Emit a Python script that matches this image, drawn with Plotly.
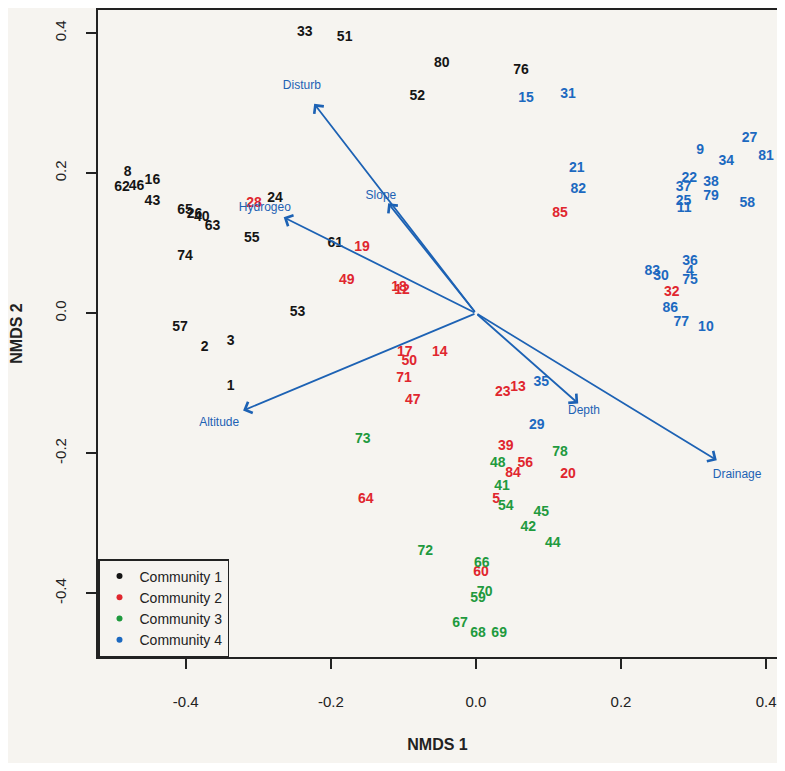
import plotly.graph_objects as go

# ---- site scores (NMDS1, NMDS2) by community ----
c1_labels = ["33", "51", "80", "76", "52", "8", "62", "46", "16", "43", "65", "26", "40", "63",
             "24", "55", "74", "61", "53", "57", "2", "3", "1"]
c1_x = [-0.236, -0.181, -0.047, 0.062, -0.081, -0.480, -0.488, -0.468, -0.446, -0.446, -0.401, -0.388,
        -0.378, -0.363, -0.277, -0.309, -0.401, -0.194, -0.246, -0.408, -0.374, -0.338, -0.338]
c1_y = [0.401, 0.394, 0.357, 0.347, 0.309, 0.201, 0.179, 0.181, 0.190, 0.160, 0.146, 0.141,
        0.136, 0.124, 0.164, 0.106, 0.081, 0.100, 0.001, -0.020, -0.049, -0.040, -0.104]

c2_labels = ["28", "19", "85", "49", "18", "12", "17", "50", "14", "71", "47", "23", "13", "39",
             "56", "84", "20", "64", "5", "60", "32"]
c2_x = [-0.306, -0.157, 0.116, -0.178, -0.106, -0.102, -0.098, -0.092, -0.050, -0.099, -0.087, 0.037,
        0.058, 0.041, 0.068, 0.051, 0.127, -0.152, 0.028, 0.007, 0.270]
c2_y = [0.157, 0.094, 0.143, 0.046, 0.036, 0.033, -0.056, -0.069, -0.056, -0.093, -0.124, -0.113,
        -0.106, -0.191, -0.214, -0.229, -0.231, -0.266, -0.266, -0.371, 0.029]

c3_labels = ["73", "78", "48", "41", "54", "45", "42", "44", "72", "66", "70", "59", "67", "68", "69"]
c3_x = [-0.156, 0.116, 0.030, 0.036, 0.041, 0.090, 0.072, 0.106, -0.070, 0.008, 0.012, 0.003,
        -0.022, 0.003, 0.032]
c3_y = [-0.181, -0.199, -0.214, -0.247, -0.276, -0.284, -0.306, -0.329, -0.341, -0.357, -0.399,
        -0.407, -0.443, -0.457, -0.457]

c4_labels = ["15", "31", "21", "82", "9", "34", "27", "81", "22", "37", "38", "79", "25", "11",
             "58", "83", "30", "36", "4", "75", "86", "77", "10", "35", "29"]
c4_x = [0.069, 0.127, 0.139, 0.141, 0.309, 0.345, 0.377, 0.400, 0.294, 0.286, 0.324, 0.324, 0.286,
        0.287, 0.374, 0.243, 0.255, 0.295, 0.295, 0.295, 0.268, 0.283, 0.317, 0.090, 0.084]
c4_y = [0.307, 0.313, 0.207, 0.177, 0.233, 0.217, 0.249, 0.224, 0.193, 0.179, 0.186, 0.166, 0.160,
        0.150, 0.157, 0.059, 0.053, 0.074, 0.060, 0.046, 0.007, -0.013, -0.021, -0.099, -0.161]

# ---- environmental vectors ----
env_names = ["Disturb", "Slope", "Hydrogeo", "Altitude", "Depth", "Drainage"]
env_x = [-0.223, -0.121, -0.265, -0.321, 0.141, 0.332]
env_y = [0.299, 0.157, 0.137, -0.139, -0.129, -0.210]
env_label_x = [-0.240, -0.131, -0.291, -0.354, 0.149, 0.360]
env_label_y = [0.324, 0.167, 0.150, -0.157, -0.140, -0.231]

x_ticks = [-0.4, -0.2, 0.0, 0.2, 0.4]
y_ticks = [-0.4, -0.2, 0.0, 0.2, 0.4]
tick_text = ["-0.4", "-0.2", "0.0", "0.2", "0.4"]

communities = ["Community 1", "Community 2", "Community 3", "Community 4"]
colors = ["#151515", "#e0262e", "#1f9a3e", "#1c69c0"]
ARROW = "#1d62b4"
BG = "#f6f4f0"
FONT = "Liberation Sans, Arial, sans-serif"

fig = go.Figure()

groups = [(c1_labels, c1_x, c1_y), (c2_labels, c2_x, c2_y), (c3_labels, c3_x, c3_y), (c4_labels, c4_x, c4_y)]
for (lab, xs, ys), col, name in zip(groups, colors, communities):
    fig.add_trace(go.Scatter(x=xs, y=ys, mode="text", text=lab, textposition="middle center",
                             textfont=dict(family=FONT, size=14, color=col, weight="bold"),
                             showlegend=False, hoverinfo="text", name=name))

# legend entries
for col, name in zip(colors, communities):
    fig.add_trace(go.Scatter(x=[None], y=[None], mode="markers", name=name,
                             marker=dict(color=col, size=6)))

# vectors
for ex, ey in zip(env_x, env_y):
    fig.add_annotation(x=ex, y=ey, ax=0, ay=0, xref="x", yref="y", axref="x", ayref="y",
                       text="", showarrow=True, arrowhead=4, arrowsize=1.3, arrowwidth=1.8,
                       arrowcolor=ARROW)

fig.add_trace(go.Scatter(x=env_label_x, y=env_label_y, mode="text", text=env_names,
                         textposition="middle center",
                         textfont=dict(family=FONT, size=12, color=ARROW),
                         showlegend=False, hoverinfo="skip"))

fig.update_layout(
    width=769, height=755,
    margin=dict(l=90, r=0, t=2, b=106),
    paper_bgcolor=BG, plot_bgcolor=BG,
    font=dict(family=FONT, size=15, color="#222"),
    legend=dict(x=0, y=0, xanchor="left", yanchor="bottom", bgcolor=BG,
                bordercolor="#222", borderwidth=1.5, font=dict(size=14, color="#222"),
                tracegroupgap=0, itemwidth=30),
    xaxis=dict(range=[-0.521, 0.415], tickvals=x_ticks, ticktext=tick_text,
               showgrid=False, zeroline=False, showline=True, linecolor="#222", linewidth=2,
               mirror=True, ticks="outside", ticklen=10, tickwidth=1.5, tickcolor="#222",
               ticklabelstandoff=20, tickfont=dict(size=15),
               title=dict(text="<b>NMDS 1</b>", font=dict(size=16), standoff=30)),
    yaxis=dict(range=[-0.491, 0.433], tickvals=y_ticks, ticktext=tick_text,
               showgrid=False, zeroline=False, showline=True, linecolor="#222", linewidth=2,
               ticks="outside", ticklen=10, tickwidth=1.5, tickcolor="#222", tickangle=-90,
               ticklabelstandoff=14, tickfont=dict(size=15),
               title=dict(text="<b>NMDS 2</b>", font=dict(size=16), standoff=30)),
)

fig.write_html("out.html")
